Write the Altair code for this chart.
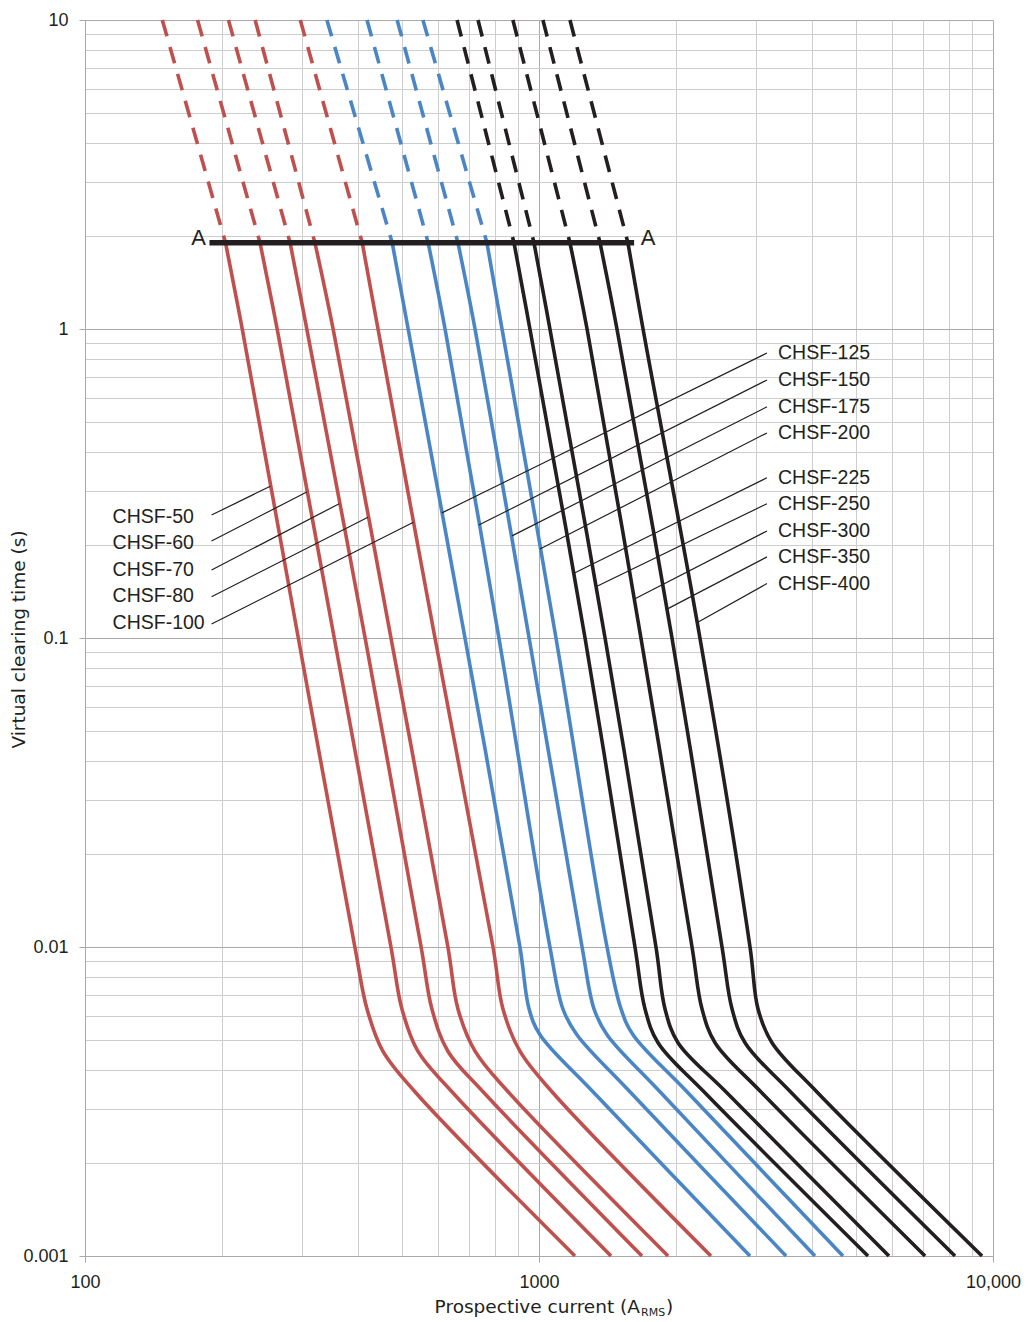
import altair as alt
import pandas as pd

# ---------------- data ----------------
NAMES = ["CHSF-50", "CHSF-60", "CHSF-70", "CHSF-80", "CHSF-100",
         "CHSF-125", "CHSF-150", "CHSF-175", "CHSF-200",
         "CHSF-225", "CHSF-250", "CHSF-300", "CHSF-350", "CHSF-400"]
GROUPS = ["red"] * 5 + ["blue"] * 4 + ["black"] * 5

# clearing-time levels (s) at which every curve was read; slot 6 is the knee
T_LEVELS = [10, 1.9, 1, 0.1, 0.01, 0.0063, None, 0.0034, 0.001]
KNEE_T = {"red": 0.0046, "blue": 0.0052, "black": 0.0049}

# prospective current (A rms) of each curve at the levels above
CURRENTS = [
    [148, 204, 222, 295, 393, 418, 453, 533, 1200],
    [177, 243, 265, 354, 472, 499, 541, 643, 1441],
    [207, 283, 308, 414, 550, 581, 630, 753, 1686],
    [237, 321, 352, 472, 630, 663, 723, 855, 1924],
    [298, 408, 442, 590, 792, 833, 908, 1068, 2392],
    [341, 475, 515, 687, 908, 951, 1005, 1315, 2916],
    [418, 570, 621, 816, 1057, 1129, 1212, 1586, 3501],
    [487, 663, 723, 951, 1244, 1322, 1412, 1847, 4054],
    [555, 768, 829, 1090, 1412, 1516, 1611, 2118, 4673],
    [660, 881, 955, 1263, 1627, 1712, 1829, 2309, 5305],
    [734, 975, 1057, 1398, 1810, 1895, 2024, 2580, 5900],
    [876, 1170, 1276, 1677, 2173, 2286, 2442, 3080, 7084],
    [1020, 1363, 1485, 1963, 2530, 2662, 2843, 3580, 8247],
    [1170, 1570, 1695, 2262, 2916, 3037, 3260, 4090, 9459],
]

# line A-A
A_T = 1.9
A_I = [188, 1620]
A_TEXT_I = [178, 1738]

# left-hand labels (CHSF-50 ... CHSF-100)
LEFT_N = 5
LEFT_LABEL_I = 115
LEFT_LABEL_T = [0.246, 0.203, 0.166, 0.137, 0.112]
LEFT_LEAD_START_I = 190
LEFT_LEAD_START_T = [0.250, 0.206, 0.166, 0.136, 0.111]
LEFT_LEAD_END_I = [256, 308, 363, 420, 529]
LEFT_LEAD_END_T = [0.310, 0.297, 0.272, 0.246, 0.237]

# right-hand labels (CHSF-125 ... CHSF-400)
RIGHT_LABEL_I = 3361
RIGHT_LABEL_T = [0.836, 0.684, 0.560, 0.461, 0.330, 0.272, 0.222, 0.183, 0.150]
RIGHT_LEAD_START_I = 3178
RIGHT_LEAD_END_I = [611, 737, 872, 1005, 1194, 1342, 1627, 1914, 2228]
RIGHT_LEAD_END_T = [0.254, 0.232, 0.214, 0.194, 0.162, 0.147, 0.134, 0.124, 0.112]

X_GRID = [m * 10 ** e for e in (2, 3) for m in range(1, 10)] + [10000]
Y_GRID = [round(m * 10.0 ** e, 6) for e in (-3, -2, -1, 0) for m in range(1, 10)] + [10]

COLORS = {"red": "#C0504D", "blue": "#4A86C6", "black": "#231F20"}
FONT = "Liberation Sans"
TFONT = "DejaVu Sans"

# ---------------- build tables ----------------
solid_rows, dash_rows = [], []
for name, grp, cur in zip(NAMES, GROUPS, CURRENTS):
    for i, I in enumerate(cur):
        t = T_LEVELS[i] if T_LEVELS[i] is not None else KNEE_T[grp]
        row = {"name": name, "group": grp, "I": I, "t": t, "k": i}
        if i <= 1:
            dash_rows.append(row)
        if i >= 1:
            solid_rows.append(row)
solid = pd.DataFrame(solid_rows)
dashed = pd.DataFrame(dash_rows)

leaders = pd.DataFrame(
    [{"I": LEFT_LEAD_START_I, "t": LEFT_LEAD_START_T[k], "I2": LEFT_LEAD_END_I[k], "t2": LEFT_LEAD_END_T[k]}
     for k in range(LEFT_N)] +
    [{"I": RIGHT_LEAD_START_I, "t": RIGHT_LABEL_T[k], "I2": RIGHT_LEAD_END_I[k], "t2": RIGHT_LEAD_END_T[k]}
     for k in range(len(RIGHT_LABEL_T))]
)
left_labels = pd.DataFrame({"I": [LEFT_LABEL_I] * LEFT_N, "t": LEFT_LABEL_T, "label": NAMES[:LEFT_N]})
right_labels = pd.DataFrame({"I": [RIGHT_LABEL_I] * len(RIGHT_LABEL_T), "t": RIGHT_LABEL_T,
                             "label": NAMES[LEFT_N:]})
aline = pd.DataFrame({"I": [A_I[0]], "I2": [A_I[1]], "t": [A_T]})
atext = pd.DataFrame({"I": A_TEXT_I, "t": [A_T, A_T], "label": ["A", "A"]})

# ---------------- scales / axes ----------------
MAJOR = "abs(log(datum.value)/LN10 - round(log(datum.value)/LN10)) < 0.001"
grid_color = {"condition": {"test": MAJOR, "value": "#a9a9a9"}, "value": "#cdcdcd"}
tick_op = {"condition": {"test": MAJOR, "value": 1}, "value": 0}

x_axis = alt.Axis(values=X_GRID, grid=True, gridColor=grid_color, gridWidth=1,
                  tickOpacity=tick_op, tickSize=6, tickColor="#a9a9a9",
                  domainColor="#a9a9a9", labelOverlap=False, labelFlush=False,
                  labelExpr="datum.value == 10000 ? '10,000' : ((datum.value == 100 || datum.value == 1000) ? datum.value + '' : '')",
                  labelFontSize=18, labelFont=FONT, labelColor="#231F20", labelPadding=11,
                  title=None)
y_axis = alt.Axis(values=Y_GRID, grid=True, gridColor=grid_color, gridWidth=1,
                  tickOpacity=tick_op, tickSize=6, tickColor="#a9a9a9",
                  domainColor="#a9a9a9", labelOverlap=False, labelFlush=False,
                  labelExpr="(" + MAJOR + ") ? format(datum.value, '~g') : ''",
                  labelFontSize=18, labelFont=FONT, labelColor="#231F20", labelPadding=11,
                  title="Virtual clearing time (s)", titleFont=TFONT, titleFontSize=18.5,
                  titleFontWeight="normal", titleColor="#231F20",
                  titleX=-67, titleY=619, titleAngle=270, titleAlign="center",
                  titleBaseline="middle")

xs = alt.Scale(type="log", domain=[100, 10000], nice=False)
ys = alt.Scale(type="log", domain=[0.001, 10], nice=False)
X = alt.X("I:Q", scale=xs, axis=x_axis)
Y = alt.Y("t:Q", scale=ys, axis=y_axis)
color = alt.Color("group:N", scale=alt.Scale(domain=list(COLORS), range=list(COLORS.values())), legend=None)

solid_l = alt.Chart(solid).mark_line(strokeWidth=3.6, interpolate="catmull-rom").encode(
    x=X, y=Y, color=color, detail="name:N", order="k:Q")
dash = alt.Chart(dashed).mark_line(strokeWidth=3.6, strokeDash=[17, 11]).encode(
    x=X, y=Y, color=color, detail="name:N", order="k:Q")

a_rule = alt.Chart(aline).mark_rule(strokeWidth=5.5, color="#231F20").encode(x=X, x2="I2:Q", y=Y)
a_lbl = alt.Chart(atext).mark_text(font=FONT, fontSize=22, color="#231F20", baseline="middle",
                                   dy=-5).encode(x=X, y=Y, text="label:N")

lead = alt.Chart(leaders).mark_rule(strokeWidth=1.2, color="#231F20").encode(
    x=X, y=Y, x2="I2:Q", y2="t2:Q")
lbl_l = alt.Chart(left_labels).mark_text(font=FONT, fontSize=19.5, color="#231F20", align="left",
                                          baseline="middle").encode(x=X, y=Y, text="label:N")
lbl_r = alt.Chart(right_labels).mark_text(font=FONT, fontSize=19.5, color="#231F20", align="left",
                                           baseline="middle").encode(x=X, y=Y, text="label:N")

one = pd.DataFrame({"k": [0]})
t_main = alt.Chart(one).mark_text(text="Prospective current (A", font=TFONT, fontSize=18.5,
                                  color="#231F20", align="right", baseline="alphabetic").encode(
    x=alt.value(555), y=alt.value(1293))
t_sub = alt.Chart(one).mark_text(text="RMS", font=TFONT, fontSize=11,
                                 color="#231F20", align="left", baseline="alphabetic").encode(
    x=alt.value(556), y=alt.value(1296))
t_close = alt.Chart(one).mark_text(text=")", font=TFONT, fontSize=18.5,
                                   color="#231F20", align="left", baseline="alphabetic").encode(
    x=alt.value(581), y=alt.value(1293))

chart = alt.layer(solid_l, dash, a_rule, lead, a_lbl, lbl_l, lbl_r,
                  t_main, t_sub, t_close).properties(
    width=908, height=1236,
    autosize=alt.AutoSizeParams(type="none"),
    padding={"left": 77, "top": 12, "right": 31, "bottom": 62},
).configure_view(stroke="#a9a9a9", strokeWidth=1).configure(background="white")

chart.save("out.html", embed_options={"renderer": "svg", "actions": False})
